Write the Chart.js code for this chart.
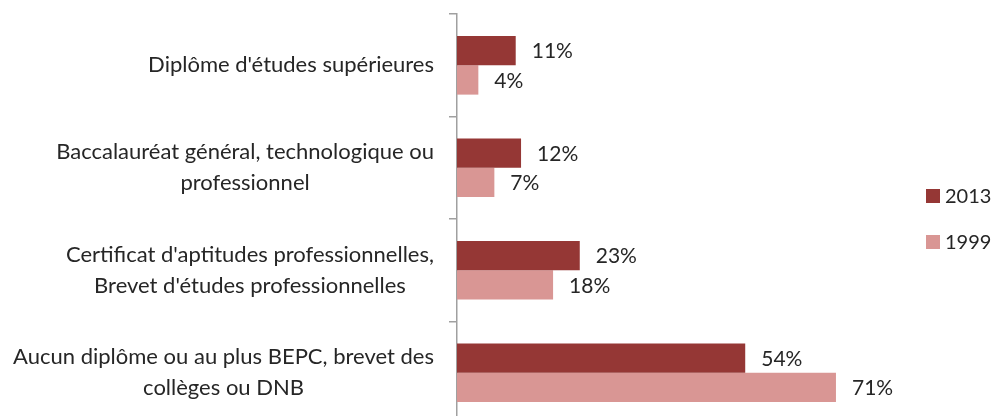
<!DOCTYPE html>
<html><head><meta charset="utf-8">
<script src="https://cdn.jsdelivr.net/npm/chart.js@4.4.1/dist/chart.umd.min.js"></script>
<style>
html,body{margin:0;padding:0;background:#fff;overflow:hidden}
#wrap{width:994px;height:416px;overflow:hidden;position:relative;background:#fff}
canvas{display:block}
</style></head><body>
<div id="wrap"><canvas id="c" width="994" height="424"></canvas></div>
<script>
// ---- data ----
const categories = [
  ["Diplôme d'études supérieures"],
  ["Baccalauréat général, technologique ou", "professionnel"],
  ["Certificat d'aptitudes professionnelles,", "Brevet d'études professionnelles"],
  ["Aucun diplôme ou au plus BEPC, brevet des", "collèges ou DNB"]
];
const seriesNames = ["2013", "1999"];
const values2013 = [11, 12, 23, 54];
const values1999 = [4, 7, 18, 71];
const xMin = 0, xMax = 80;

// ---- style ----
const FONT = '22px Lato';
const VFONT = '21px Lato';
const LFONT = '20px Lato';
const TEXT = '#262626';
const AXIS = '#A0A0A0';
const colors = ['#953735', '#D99694'];

const catLabels = {
  id: 'catLabels',
  afterDraw(chart) {
    const ctx = chart.ctx, y = chart.scales.y;
    ctx.save();
    ctx.font = FONT; ctx.fillStyle = TEXT;
    ctx.textBaseline = 'middle'; ctx.textAlign = 'center';
    categories.forEach((lines, i) => {
      const cy = y.getPixelForValue(i);
      const w = Math.max(...lines.map(l => ctx.measureText(l).width));
      const cx = y.right - 23 - w / 2;
      const lh = 31;
      lines.forEach((l, j) => ctx.fillText(l, cx, cy + (j - (lines.length - 1) / 2) * lh));
    });
    ctx.restore();
  }
};

const valueLabels = {
  id: 'valueLabels',
  afterDatasetsDraw(chart) {
    const ctx = chart.ctx;
    ctx.save();
    ctx.font = VFONT; ctx.fillStyle = TEXT;
    ctx.textBaseline = 'middle'; ctx.textAlign = 'left';
    chart.data.datasets.forEach((ds, di) => {
      chart.getDatasetMeta(di).data.forEach((bar, i) => {
        ctx.fillText(ds.data[i] + '%', bar.x + 16, bar.y + 1);
      });
    });
    ctx.restore();
  }
};

const sideLegend = {
  id: 'sideLegend',
  afterDraw(chart) {
    const ctx = chart.ctx, a = chart.chartArea;
    const mid = (a.top + a.bottom) / 2;
    const x0 = a.right + 42;
    ctx.save();
    ctx.font = LFONT; ctx.textBaseline = 'middle'; ctx.textAlign = 'left';
    chart.data.datasets.forEach((ds, i) => {
      const cy = mid + (i - 0.5) * 46;
      ctx.fillStyle = ds.backgroundColor;
      ctx.fillRect(x0, cy - 7, 14, 14);
      ctx.fillStyle = TEXT;
      ctx.fillText(ds.label, x0 + 19, cy + 1);
    });
    ctx.restore();
  }
};

new Chart(document.getElementById('c'), {
  type: 'bar',
  data: {
    labels: categories.map(l => l.join(' ')),
    datasets: [
      { label: seriesNames[0], data: values2013, backgroundColor: colors[0] },
      { label: seriesNames[1], data: values1999, backgroundColor: colors[1] }
    ]
  },
  options: {
    indexAxis: 'y',
    responsive: false,
    animation: false,
    devicePixelRatio: 1,
    layout: { padding: { top: 14, right: 110, bottom: 0, left: 0 } },
    datasets: { bar: { categoryPercentage: 0.573, barPercentage: 1.0 } },
    scales: {
      x: { display: false, min: xMin, max: xMax },
      y: {
        position: 'left', offset: true,
        border: { color: AXIS, width: 1.5 },
        grid: { drawOnChartArea: false, drawTicks: true, tickLength: 8, color: AXIS, lineWidth: 1.5, offset: true },
        ticks: { display: false },
        afterFit: s => { s.width = 457; }
      }
    },
    plugins: { legend: { display: false }, tooltip: { enabled: false } }
  },
  plugins: [catLabels, valueLabels, sideLegend]
});
</script>
</body></html>
